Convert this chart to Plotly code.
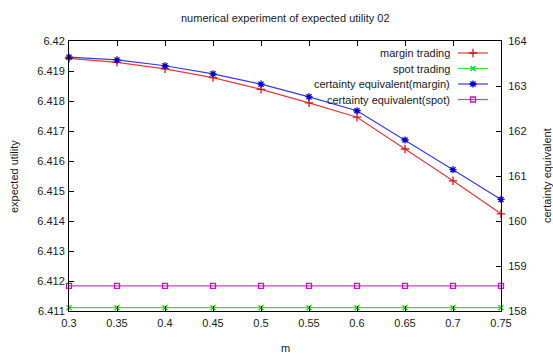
import plotly.graph_objects as go

m_values = [0.3, 0.35, 0.4, 0.45, 0.5, 0.55, 0.6, 0.65, 0.7, 0.75]
margin_trading = [6.41942, 6.41929, 6.41907, 6.41878, 6.41839, 6.41794, 6.41746, 6.41640, 6.41534, 6.41424]
spot_trading = [6.41111] * 10
ce_margin = [163.64, 163.58, 163.45, 163.27, 163.04, 162.76, 162.45, 161.80, 161.14, 160.48]
ce_spot = [158.56] * 10

x_ticks = [0.3, 0.35, 0.4, 0.45, 0.5, 0.55, 0.6, 0.65, 0.7, 0.75]
y_ticks = [6.411, 6.412, 6.413, 6.414, 6.415, 6.416, 6.417, 6.418, 6.419, 6.42]
y2_ticks = [158, 159, 160, 161, 162, 163, 164]

series_names = ["margin trading", "spot trading", "certainty equivalent(margin)", "certainty equivalent(spot)"]
line_colors = ["#e03a3a", "#3ae03a", "#3a3ae0", "#d03ad0"]
marker_colors = ["#d01818", "#18d018", "#0000d0", "#c018c0"]
symbols = ["cross-thin-open", "x-thin-open", "asterisk-open", "square-open"]
marker_sizes = [6, 5, 6, 5]

FONT = "Liberation Sans, Arial, sans-serif"
TXT = "#1a1a1a"

# plot area in pixels
W, H = 553, 353
L, R, T, B = 69, 52, 41, 42
pw, ph = W - L - R, H - T - B

fig = go.Figure()

data = [
    (margin_trading, "y"),
    (spot_trading, "y"),
    (ce_margin, "y2"),
    (ce_spot, "y2"),
]
for i, (vals, ax) in enumerate(data):
    fig.add_trace(go.Scatter(
        x=m_values, y=vals, yaxis=ax, mode="lines+markers", name=series_names[i],
        line=dict(color=line_colors[i], width=1.2),
        marker=dict(symbol=symbols[i], size=marker_sizes[i], color=marker_colors[i],
                    line=dict(color=marker_colors[i], width=1.3)),
        showlegend=False, cliponaxis=False,
    ))

# custom gnuplot-style legend (text right, sample left)
leg_text_x = (452 - L) / pw
leg_x0 = (458 - L) / pw
leg_x1 = (488 - L) / pw
leg_rows = [53, 68.5, 84, 99.5]
for i, name in enumerate(series_names):
    yf = (H - B - leg_rows[i]) / ph
    fig.add_trace(go.Scatter(
        x=[leg_x0, leg_x1], y=[yf, yf], xaxis="x3", yaxis="y3", mode="lines",
        line=dict(color=line_colors[i], width=1.2), showlegend=False, hoverinfo="skip"))
    fig.add_trace(go.Scatter(
        x=[(leg_x0 + leg_x1) / 2], y=[yf], xaxis="x3", yaxis="y3", mode="markers",
        marker=dict(symbol=symbols[i], size=marker_sizes[i], color=marker_colors[i],
                    line=dict(color=marker_colors[i], width=1.3)),
        showlegend=False, hoverinfo="skip"))
    fig.add_annotation(x=leg_text_x, y=yf, xref="paper", yref="paper", text=name,
                       showarrow=False, xanchor="right", yanchor="middle",
                       font=dict(family=FONT, size=11, color=TXT))

axis_common = dict(showgrid=False, zeroline=False, ticks="inside", ticklen=5,
                   tickcolor="#000000", tickwidth=1, showline=True, linecolor="#000000",
                   linewidth=1, tickfont=dict(family=FONT, size=11, color=TXT))

fig.update_layout(
    width=W, height=H,
    margin=dict(l=L, r=R, t=T, b=B, pad=0),
    paper_bgcolor="white", plot_bgcolor="white",
    xaxis=dict(range=[0.3, 0.75], tickvals=x_ticks, ticktext=[f"{v:g}" for v in x_ticks],
               mirror="ticks", ticklabelstandoff=2, **axis_common),
    yaxis=dict(range=[6.411, 6.42], tickvals=y_ticks, ticktext=[f"{v:g}" for v in y_ticks],
               mirror=True, ticklabelstandoff=1, **axis_common),
    yaxis2=dict(range=[158, 164], tickvals=y2_ticks, ticktext=[str(v) for v in y2_ticks],
                overlaying="y", side="right", ticklabelstandoff=4, **axis_common),
    xaxis3=dict(range=[0, 1], overlaying="x", visible=False, fixedrange=True),
    yaxis3=dict(range=[0, 1], overlaying="y", visible=False, fixedrange=True),
    showlegend=False,
)

# titles
fig.add_annotation(x=0.5, y=(H - B - 18) / ph, xref="paper", yref="paper",
                   text="numerical experiment of expected utility 02",
                   showarrow=False, xanchor="center", yanchor="middle",
                   font=dict(family=FONT, size=11, color=TXT))
fig.add_annotation(x=(14 - L) / pw, y=0.5, xref="paper", yref="paper", text="expected utility",
                   textangle=-90, showarrow=False, xanchor="center", yanchor="middle",
                   font=dict(family=FONT, size=11, color=TXT))
fig.add_annotation(x=(547 - L) / pw, y=0.5, xref="paper", yref="paper", text="certainty equivalent",
                   textangle=-90, showarrow=False, xanchor="center", yanchor="middle",
                   font=dict(family=FONT, size=11, color=TXT))
fig.add_annotation(x=0.5, y=(H - B - 348) / ph, xref="paper", yref="paper", text="m",
                   showarrow=False, xanchor="center", yanchor="middle",
                   font=dict(family=FONT, size=11, color=TXT))

fig.write_html("out.html")
